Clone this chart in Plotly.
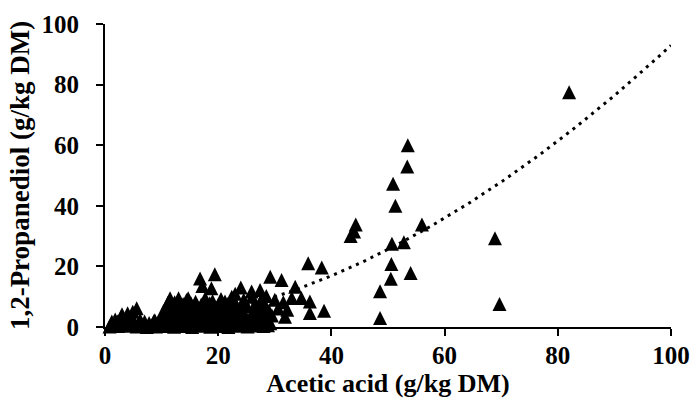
import numpy as np
import plotly.graph_objects as go

# Acetic acid (g/kg DM) vs 1,2-Propanediol (g/kg DM)
acetic = [
    # upper / isolated points
    82.0, 68.9, 69.7, 53.5, 53.4, 50.9, 51.3, 56.0, 44.3, 43.4, 44.0, 50.7, 52.8,
    50.6, 54.0, 50.5, 48.6, 48.6, 35.9, 38.3, 36.2, 36.2, 38.7, 34.7,
    16.8, 19.4, 18.8, 17.2, 24.0, 25.9, 27.4, 29.2, 31.2, 33.6, 31.8, 23.0,
    # row 8-10
    11.5, 13.0, 14.7, 12.3, 16.0, 17.7, 19.0, 20.5, 22.4, 22.7, 21.2, 24.5, 26.0,
    27.5, 28.5, 30.0, 31.5, 33.0, 11.1, 14.4,
    # row 7-8
    13.8, 15.2, 17.0, 18.5, 20.0, 21.7, 23.2, 24.8, 26.5, 28.2,
    # row 5-7
    3.0, 5.6, 4.9, 10.3, 11.2, 12.2, 13.3, 14.4, 15.6, 16.8, 18.0, 19.2, 20.3,
    21.4, 22.6, 23.8, 25.0, 26.3, 27.6, 29.0, 30.6, 32.2,
    # row 4-5
    11.0, 12.8, 14.0, 15.0, 16.5, 17.5, 18.8, 20.0, 21.0, 22.0, 23.3, 24.5, 26.0,
    27.3, 28.3, 29.5, 4.0,
    # row 2-4
    1.8, 2.8, 3.8, 4.6, 6.2, 8.8, 10.2, 11.2, 12.3, 13.2, 14.2, 15.2, 16.1, 17.1,
    18.2, 19.1, 20.2, 21.1, 22.1, 23.2, 24.2, 25.1, 26.2, 27.3, 28.6, 28.0,
    # row 1-2
    1.2, 2.0, 3.5, 5.2, 6.0, 7.0, 7.8, 8.6, 9.4, 10.8, 11.8, 13.5, 15.0, 16.6,
    18.0, 19.8, 21.5, 23.0, 24.8, 26.6, 27.8, 29.2, 2.2,
    # base row
    0.8, 1.5, 2.3, 3.1, 3.9, 4.7, 5.6, 6.6, 7.4, 8.2, 9.0, 9.8, 10.6, 11.4, 12.2,
    13.0, 13.8, 14.6, 15.4, 16.2, 17.0, 17.8, 18.6, 19.4, 20.2, 21.0, 21.8, 22.6,
    23.4, 24.3, 25.2, 26.1, 27.0, 28.0, 28.8,
]
propanediol = [
    77.5, 29.3, 7.6, 60.0, 53.0, 47.3, 40.0, 33.8, 33.8, 30.0, 31.5, 27.5, 28.0,
    20.8, 17.8, 15.9, 11.8, 3.0, 21.0, 19.6, 8.4, 4.6, 5.4, 9.6,
    16.0, 17.4, 12.8, 13.5, 13.0, 11.7, 12.2, 16.6, 15.5, 13.3, 3.4, 11.0,
    9.5, 9.5, 9.5, 8.2, 8.3, 9.5, 8.6, 9.2, 10.0, 8.4, 8.4, 9.0, 10.0,
    8.6, 10.2, 9.0, 8.2, 9.6, 7.9, 8.9,
    7.6, 7.8, 7.4, 7.8, 7.3, 7.6, 7.2, 7.9, 7.4, 7.6,
    4.2, 6.2, 5.0, 5.2, 7.0, 5.8, 6.8, 5.4, 6.6, 5.5, 6.9, 5.6, 6.6,
    5.3, 6.4, 5.5, 6.8, 5.6, 6.5, 5.2, 6.1, 5.7,
    4.4, 4.6, 4.2, 4.8, 4.3, 4.7, 4.4, 4.8, 4.2, 4.6, 4.4, 4.6, 4.3,
    4.8, 4.2, 3.8, 4.5,
    2.5, 3.2, 2.6, 3.5, 2.4, 2.2, 3.0, 2.6, 3.4, 2.4, 3.1, 2.5, 3.6, 2.7,
    3.3, 2.4, 3.7, 2.6, 3.2, 2.5, 3.5, 2.3, 3.3, 2.4, 3.0, 1.7,
    1.8, 1.2, 1.9, 1.5, 1.2, 1.8, 1.3, 1.9, 1.4, 1.6, 1.8, 1.5, 1.7, 1.6,
    1.8, 1.5, 1.8, 1.4, 1.7, 1.5, 1.9, 1.2, 1.8,
    0.2, 0.8, 0.3, 1.0, 0.4, 0.9, 0.2, 0.5, 0.0, 0.6, 0.2, 0.9, 0.3, 0.7, 0.1,
    0.8, 0.3, 0.6, 0.0, 0.9, 0.4, 0.7, 0.1, 0.8, 0.3, 0.6, 0.0, 0.9,
    0.4, 0.7, 0.2, 0.5, 0.9, 0.3, 0.6,
]

# Power trendline y = a * x^b (forecast forward to x = 100)
trend_a = 0.01771
trend_b = 1.86
trend_x = np.linspace(min(acetic), 100, 300)
trend_y = trend_a * trend_x ** trend_b

x_ticks = [0, 20, 40, 60, 80, 100]
y_ticks = [0, 20, 40, 60, 80, 100]

font_family = "Liberation Serif, Times New Roman, serif"
msize = 14

fig = go.Figure()
fig.add_trace(go.Scatter(
    x=trend_x, y=trend_y, mode="lines",
    line=dict(color="black", width=3, dash="3px,5px"),
    hoverinfo="skip", showlegend=False,
))
fig.add_trace(go.Scatter(
    x=acetic, y=propanediol, mode="markers",
    marker=dict(symbol="arrow-down", angle=180, standoff=msize / 2,
                size=msize, color="black", line=dict(width=0)),
    cliponaxis=False, showlegend=False,
))

axis_common = dict(
    showgrid=False, zeroline=False, showline=True, linecolor="black", linewidth=2,
    ticks="outside", ticklen=7, tickwidth=2, tickcolor="black",
    tickfont=dict(family=font_family, size=25, color="black", weight="bold"),
    range=[0, 100], fixedrange=True,
)

fig.update_layout(
    width=691, height=398,
    margin=dict(l=105, r=20, t=24, b=71, autoexpand=False),
    paper_bgcolor="white", plot_bgcolor="white",
    xaxis=dict(**axis_common, tickvals=x_ticks, ticklabelstandoff=-2,
               title=dict(text="Acetic acid (g/kg DM)", standoff=3,
                          font=dict(family=font_family, size=26, color="black", weight="bold"))),
    yaxis=dict(**axis_common, tickvals=y_ticks, ticklabelstandoff=12,
               title=dict(text="1,2-Propanediol (g/kg DM)", standoff=4,
                          font=dict(family=font_family, size=27, color="black", weight="bold"))),
)

fig.write_html("out.html", config={"displayModeBar": False},
               post_script="document.body.style.margin='0';")
